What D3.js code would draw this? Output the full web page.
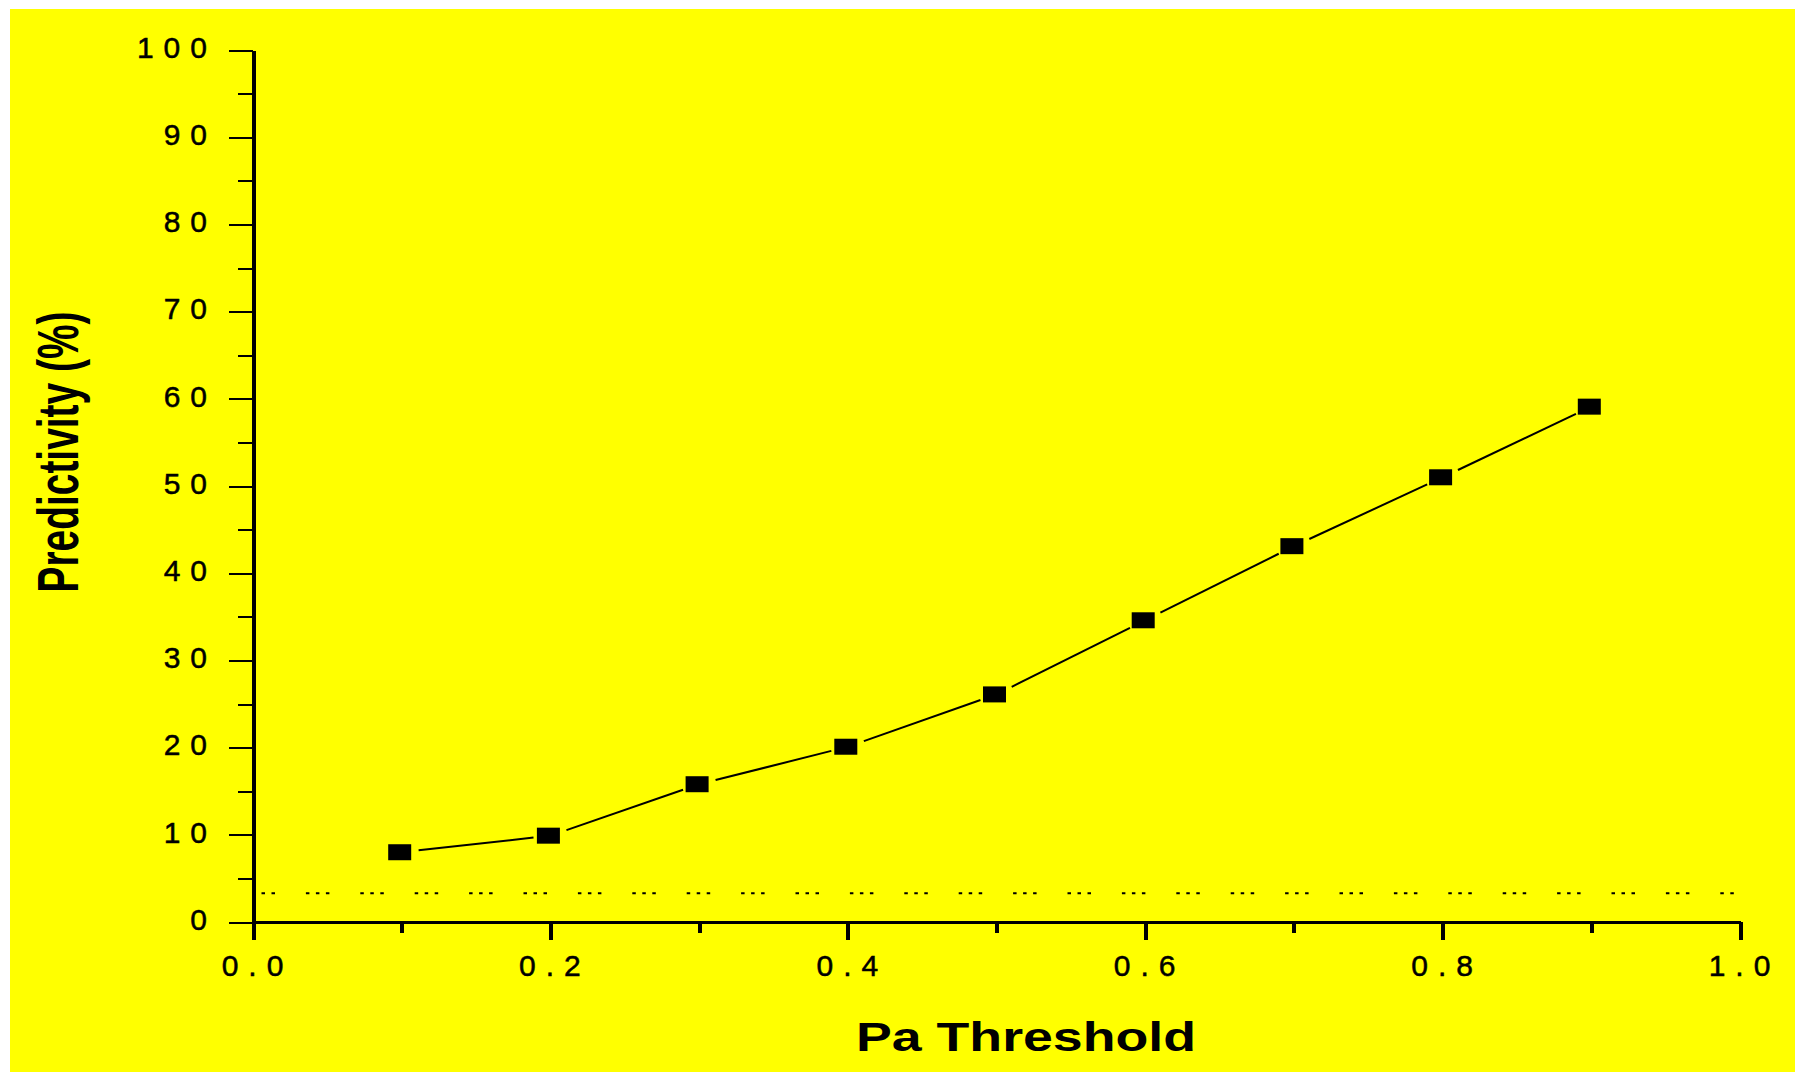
<!DOCTYPE html>
<html>
<head>
<meta charset="utf-8">
<script src="https://cdn.jsdelivr.net/npm/d3@7"></script>
<style>
  body { margin: 0; background: #fff; }
  svg { display: block; }
  .axis text { font-family: "Liberation Sans", Arial, sans-serif; font-size: 30px; letter-spacing: 10px; fill: #000; stroke: #000; stroke-width: 0.5px; }
  .axis line, .axis path { stroke: #000; shape-rendering: crispEdges; }
</style>
</head>
<body>
<svg width="1795" height="1072"></svg>
<script>
// data
const thresholds = [0.1, 0.2, 0.3, 0.4, 0.5, 0.6, 0.7, 0.8, 0.9];
const predictivity = [8.0, 9.9, 15.8, 20.1, 26.1, 34.6, 43.1, 51.0, 59.1];
const baseline = [3.3];

const yTicks = [0, 10, 20, 30, 40, 50, 60, 70, 80, 90, 100];
const yMinorTicks = [5, 15, 25, 35, 45, 55, 65, 75, 85, 95];
const xTicks = [0.0, 0.2, 0.4, 0.6, 0.8, 1.0];
const xMinorTicks = [0.1, 0.3, 0.5, 0.7, 0.9];

const svg = d3.select('svg');

// yellow page
svg.append('rect')
  .attr('x', 10).attr('y', 9)
  .attr('width', 1785).attr('height', 1063)
  .attr('fill', '#ffff00');

const x = d3.scaleLinear().domain([0, 1]).range([253, 1740]);
const y = d3.scaleLinear().domain([0, 100]).range([922, 50]);

// y axis, major + minor ticks
const yAxis = svg.append('g')
  .attr('class', 'axis')
  .attr('transform', `translate(${x(0)},0)`)
  .call(d3.axisLeft(y).tickValues(yTicks).tickSize(24).tickSizeOuter(0).tickPadding(12).tickFormat(d3.format('d')));
yAxis.select('.domain').attr('stroke-width', 4);
yAxis.selectAll('.tick line').attr('stroke-width', 2);
yAxis.selectAll('.tick text').attr('dy', '0.24em');

svg.append('g')
  .attr('class', 'axis')
  .attr('transform', `translate(${x(0)},0)`)
  .call(d3.axisLeft(y).tickValues(yMinorTicks).tickSize(15).tickSizeOuter(0).tickFormat(''))
  .call(g => g.select('.domain').remove())
  .selectAll('.tick line').attr('stroke-width', 2);

// x axis
const xAxis = svg.append('g')
  .attr('class', 'axis')
  .attr('transform', `translate(0,${y(0)})`)
  .call(d3.axisBottom(x).tickValues(xTicks).tickSize(18).tickSizeOuter(0).tickPadding(15).tickFormat(d3.format('.1f')));
xAxis.select('.domain').attr('stroke-width', 3);
xAxis.selectAll('.tick line').attr('stroke-width', 4);
xAxis.selectAll('.tick text').attr('dx', '4');

svg.append('g')
  .attr('class', 'axis')
  .attr('transform', `translate(0,${y(0)})`)
  .call(d3.axisBottom(x).tickValues(xMinorTicks).tickSize(11).tickSizeOuter(0).tickFormat(''))
  .call(g => g.select('.domain').remove())
  .selectAll('.tick line').attr('stroke-width', 4);

// dotted reference line
svg.selectAll('.baseline')
  .data(baseline)
  .join('line')
  .attr('class', 'baseline')
  .attr('x1', x(0)).attr('x2', x(1))
  .attr('y1', d => y(d)).attr('y2', d => y(d))
  .attr('stroke', '#000')
  .attr('stroke-width', 2)
  .attr('stroke-dasharray', '3.5 6.5 3.5 6.5 3.5 30.9')
  .attr('stroke-dashoffset', 1.5);

// line segments stop short of the markers
const pts = thresholds.map((t, i) => [x(t), y(predictivity[i])]);
const gap = 17;
svg.selectAll('.seg')
  .data(d3.pairs(pts))
  .join('line')
  .attr('class', 'seg')
  .each(function ([a, b]) {
    const dx = b[0] - a[0], dy = b[1] - a[1];
    const len = Math.hypot(dx, dy);
    const ux = dx / len, uy = dy / len;
    d3.select(this)
      .attr('x1', a[0] + ux * gap).attr('y1', a[1] + uy * gap)
      .attr('x2', b[0] - ux * gap).attr('y2', b[1] - uy * gap);
  })
  .attr('stroke', '#000')
  .attr('stroke-width', 2);

// square markers
const mw = 23, mh = 16;
svg.selectAll('.marker')
  .data(thresholds)
  .join('rect')
  .attr('class', 'marker')
  .attr('x', (d, i) => x(d) - 2 - mw / 2)
  .attr('y', (d, i) => y(predictivity[i]) - mh / 2)
  .attr('width', mw)
  .attr('height', mh)
  .attr('fill', '#000');

// axis titles
svg.append('text')
  .attr('x', 1026)
  .attr('y', 1051)
  .attr('text-anchor', 'middle')
  .attr('textLength', 340)
  .attr('lengthAdjust', 'spacingAndGlyphs')
  .style('font-family', '"Liberation Sans", Arial, sans-serif')
  .style('font-weight', 'bold')
  .style('font-size', '40px')
  .text('Pa Threshold');

svg.append('text')
  .attr('transform', 'translate(78,452) rotate(-90) scale(1,1.45)')
  .attr('text-anchor', 'middle')
  .attr('textLength', 281)
  .attr('lengthAdjust', 'spacingAndGlyphs')
  .style('font-family', '"Liberation Sans", Arial, sans-serif')
  .style('font-weight', 'bold')
  .style('font-size', '40px')
  .text('Predictivity (%)');
</script>
</body>
</html>
